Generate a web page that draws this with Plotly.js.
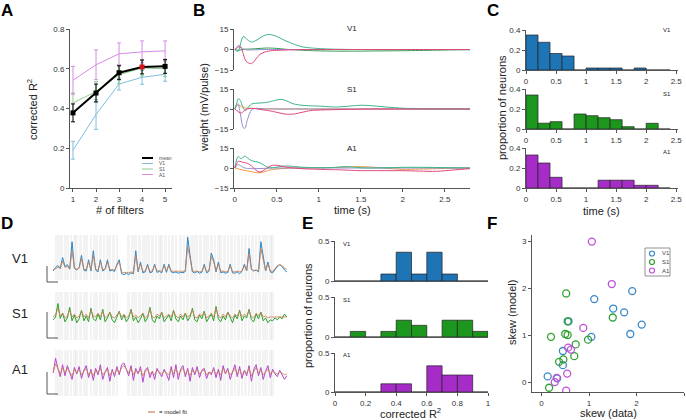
<!DOCTYPE html>
<html>
<head>
<meta charset="utf-8">
<script src="https://cdn.plot.ly/plotly-3.0.1.min.js"></script>
<style>
  html, body { margin: 0; padding: 0; background: #fff; }
  #fig { width: 686px; height: 420px; }
</style>
</head>
<body>
<div id="fig"></div>
<script>
"use strict";

// ---- panel A: corrected R2 vs number of filters
var nFilters = [1, 2, 3, 4, 5];
var meanR2 = [0.378, 0.478, 0.58, 0.609, 0.612];
var meanErr = [0.045, 0.045, 0.035, 0.035, 0.035];
var v1R2 = [0.19, 0.37, 0.523, 0.557, 0.572];
var v1Err = [0.045, 0.075, 0.03, 0.035, 0.035];
var s1R2 = [0.428, 0.485, 0.57, 0.604, 0.60];
var s1Err = [0.05, 0.05, 0.045, 0.04, 0.04];
var a1R2 = [0.542, 0.62, 0.675, 0.685, 0.69];
var a1Err = [0.07, 0.075, 0.055, 0.055, 0.05];

// ---- panel B: filter weights (mV/pulse) vs time (s)
var tB = [0, 0.02, 0.04, 0.06, 0.08, 0.1, 0.12, 0.15, 0.2, 0.25, 0.3, 0.35, 0.4, 0.45, 0.5, 0.55, 0.6, 0.7, 0.8, 0.9, 1.0, 1.1, 1.2, 1.3, 1.4, 1.5, 1.6, 1.8, 2.0, 2.2, 2.4, 2.6, 2.8];
var wV1teal = [0, -1, -1.5, 2, 7, 9.5, 9, 7, 5.5, 6.5, 8.5, 10.3, 11, 10.6, 9.5, 8, 6.5, 4, 2, 1.2, 0.7, 0.4, 0.2, 0.1, 0, 0, 0, 0, 0, 0, 0, 0, 0];
var wV1pink = [0, 0.8, 1.8, 2, 0.5, -3, -7, -9.5, -10.3, -7, -3.5, -2, -1.2, -0.8, -0.6, -0.5, -0.4, -0.2, -0.1, 0, 0, 0, 0, 0, 0, 0, 0, 0, 0, 0, 0, 0, 0];
var wV1lav = [0, 1.5, 3, 2.5, 1.5, 0.5, 0, -0.3, -0.3, -0.2, -0.1, 0, 0, 0, 0, 0, 0, 0, 0, 0, 0, 0, 0, 0, 0, 0, 0, 0, 0, 0, 0, 0, 0];
var wV1green = [0, -0.3, -0.5, -0.4, -0.2, 0, 0.2, 0.3, 0.4, 0.6, 0.8, 1, 1.1, 1, 0.8, 0.5, 0.2, -0.2, -0.5, -0.8, -1, -1.1, -1.2, -1.2, -1.2, -1.2, -1.1, -1, -0.9, -0.7, -0.5, -0.3, -0.2];
var wS1teal = [0, 4, 7.8, 7, 4, 1, -1, 0.5, 3.8, 4.3, 4.5, 4.7, 5.2, 6, 6.8, 7.2, 6.5, 3.8, 2.8, 2.4, 2.2, 1.8, 1.5, 1.8, 2.4, 2.8, 2.6, 1.5, 0.6, 0.1, 0, 0, 0];
var wS1lav = [0, 3, 4, -2, -9, -14, -14.5, -8, -0.5, 0.5, 0.3, 0, 0, 0, 0, 0, 0, 0, 0, 0, 0, 0, 0, 0, 0, 0, 0, 0, 0, 0, 0, 0, 0];
var wS1pink = [0, -1, -2, -2.8, -3, -2, -1, 0, 0.5, 0.2, -0.3, -0.8, -1.2, -1.8, -2.5, -3.2, -3.8, -3.8, -2.5, -1.2, -0.8, -0.6, -0.5, -0.3, -0.2, -0.1, 0, 0, 0, 0, 0, 0, 0];
var wS1orange = [0, 2, 3, 2.5, 1.8, 1.2, 0.8, 0.6, 0.5, 0.4, 0.3, 0.2, 0.2, 0.1, 0.1, 0, 0, 0, 0, 0, 0, 0, 0, 0, 0, 0, 0, 0, 0, 0, 0, 0, 0];
var wA1teal = [0, 6, 8.8, 7.5, 7, 8.2, 9, 7.5, 5.5, 4.8, 3.8, 2, 0.3, 0.2, 0.6, 1.2, 1.5, 1.2, 0.6, 0.4, 0.3, 0.3, 0.5, 1, 0.8, 0.2, 0, 0.2, 0.5, 0.5, 0.4, 0.2, 0];
var wA1pink = [0, 3, 5, 5, 4.6, 4.2, 4, 3.5, 1.5, -1.5, -3, -1.5, 0.8, 2, 2, 1.5, 0.8, 0, -0.5, -0.8, -1, -1.2, -1.3, -1.5, -1.8, -2, -2, -2, -2, -2.3, -2.5, -1.5, -0.5];
var wA1lav = [0, 1.5, 2.5, 2, 1.2, 0.5, 0, -0.3, -0.5, -0.5, -0.4, -0.3, -0.2, 0, 0, 0, 0, 0, 0, 0, 0, 0, 0, 0, 0, 0, 0, 0, 0, 0, 0, 0, 0];
var wA1orange = [0, -0.3, -0.6, -1, -1.3, -1.6, -1.8, -2.2, -2.8, -3.4, -3.6, -2.8, -1.8, -1.2, -0.8, -0.5, -0.3, 0, 0, 0, 0, 0.2, 0.4, 0.7, 0.9, 1, 0.8, -0.2, -1, -0.8, -0.5, -0.2, 0];

// ---- panel C: histogram of filter peak times
var cBins = [0.1, 0.3, 0.5, 0.7, 0.9, 1.1, 1.3, 1.5, 1.7, 1.9, 2.1, 2.3];
var cV1 = [0.35, 0.277, 0.165, 0.14, 0, 0.02, 0.02, 0.02, 0, 0.02, 0, 0];
var cS1 = [0.34, 0.058, 0.073, 0, 0.15, 0.133, 0.113, 0.093, 0.023, 0, 0.057, 0];
var cA1 = [0.33, 0.25, 0.107, 0, 0, 0, 0.078, 0.078, 0.078, 0.027, 0.027, 0];

// ---- panel D: example traces (data and model fit), sample index on x
var dV1 = [2.0,2.8,3.2,2.6,5.0,3.0,3.4,2.4,8.5,2.6, 2.2,2.8,5.5,2.2,2.0,4.5,2.0,6.5,2.2,1.8,
           4.5,2.0,2.4,4.5,2.0,2.2,1.9,3.5,4.5,1.4, 1.2,1.5,1.2,1.6,1.4,6.5,1.8,4.0,1.6,1.8,
           3.5,1.6,1.8,3.5,1.7,1.9,1.6,3.5,1.7,3.5, 1.8,1.6,1.8,1.5,1.7,1.6,1.9,9.5,5.5,1.8,
           1.6,1.9,1.5,1.7,3.5,1.6,1.9,6.0,4.5,1.8, 4.0,1.6,1.8,1.5,1.7,3.5,1.6,1.5,1.8,1.4,
           1.9,3.5,2.0,7.0,2.4,2.0,2.2,1.8,8.5,5.0, 2.0,4.0,1.8,1.6,2.4,3.0,3.4,3.0,2.2,1.8];
var mV1 = [2.2,2.6,2.8,2.6,4.2,2.8,3.0,2.5,6.5,2.6, 2.4,2.6,4.8,2.4,2.3,4.0,2.3,5.5,2.4,2.2,
           4.0,2.3,2.4,4.0,2.3,2.3,2.2,3.2,4.0,1.8, 1.6,1.7,1.6,1.8,1.7,5.5,2.0,3.6,1.9,2.0,
           3.2,1.9,2.0,3.2,2.0,2.1,1.9,3.2,2.0,3.2, 2.0,1.9,2.0,1.9,2.0,1.9,2.1,7.5,4.5,2.0,
           1.9,2.0,1.8,1.9,3.2,1.9,2.0,5.2,4.0,2.0, 3.6,1.9,2.0,1.8,1.9,3.2,1.9,1.8,2.0,1.8,
           2.0,3.2,2.1,6.0,2.4,2.1,2.2,2.0,7.0,4.5, 2.1,3.6,2.0,1.9,2.6,3.2,3.4,3.2,2.6,2.4];
var dS1 = [4.2,4.8,7.6,4.5,5.6,3.8,4.6,6.8,4.0,5.2, 3.6,4.4,6.2,4.0,5.0,3.8,6.6,4.4,4.0,5.4,
           4.2,6.4,3.8,4.6,5.8,4.2,3.6,4.8,6.0,4.2, 5.2,3.8,4.6,6.4,4.0,4.8,3.6,4.4,5.6,3.8,
           4.6,6.8,4.2,3.6,5.0,4.4,5.8,3.8,4.6,5.2, 4.0,6.2,4.4,3.8,5.0,4.2,5.6,4.0,4.8,6.6,
           4.2,3.8,5.2,4.4,6.0,3.8,4.6,5.4,4.0,7.0, 4.4,3.8,5.0,4.2,5.8,4.6,3.6,5.2,4.4,6.2,
           4.0,5.0,4.6,6.4,4.2,3.8,5.4,4.4,5.8,4.0, 4.6,3.6,4.2,4.0,4.6,4.2,4.8,4.4,5.4,4.8];
var mS1 = [4.8,5.2,6.6,5.0,5.6,4.6,5.0,6.2,4.8,5.4, 4.6,5.0,6.0,4.8,5.4,4.6,6.2,5.0,4.8,5.6,
           4.8,6.0,4.6,5.0,5.8,4.8,4.6,5.2,5.8,4.8, 5.4,4.6,5.0,6.2,4.8,5.2,4.6,5.0,5.6,4.6,
           5.0,6.4,4.8,4.6,5.4,5.0,5.8,4.6,5.0,5.4, 4.8,6.0,5.0,4.6,5.4,4.8,5.6,4.8,5.2,6.2,
           4.8,4.6,5.4,5.0,5.8,4.6,5.0,5.6,4.8,6.6, 5.0,4.6,5.4,4.8,5.8,5.0,4.6,5.4,5.0,6.0,
           4.8,5.4,5.0,6.2,4.8,4.6,5.6,5.0,5.8,4.8, 5.0,4.6,4.8,4.8,4.8,4.8,4.8,4.8,4.8,4.8];
var dA1 = [5.0,8.2,6.0,4.2,6.8,4.4,6.6,5.0,3.6,6.2, 4.8,6.4,3.8,5.6,6.6,4.0,5.8,3.4,6.0,4.6,
           6.8,3.6,5.2,6.2,3.2,5.8,4.2,6.4,4.6,6.8, 7.2,5.8,4.4,6.6,3.4,6.0,4.8,6.4,3.0,5.6,
           6.2,4.0,5.4,3.6,6.0,5.0,4.2,5.8,4.8,3.4, 6.4,4.0,6.8,3.6,5.8,6.6,4.2,6.0,3.2,6.2,
           4.6,6.4,4.0,5.6,6.0,3.8,5.2,4.6,6.2,4.0, 5.8,3.4,6.6,4.8,6.0,3.6,5.4,6.8,4.2,6.4,
           3.8,5.6,4.4,6.6,3.2,5.8,6.8,4.4,6.2,3.6, 5.4,6.6,4.0,5.8,4.8,4.2,5.6,4.6,3.6,4.4];
var mA1 = [5.2,7.0,6.0,4.8,6.2,5.0,6.0,5.2,4.4,5.8, 5.0,5.8,4.6,5.4,6.0,4.6,5.4,4.4,5.6,5.0,
           6.0,4.6,5.2,5.8,4.4,5.4,4.8,5.8,5.0,6.2, 6.6,5.8,5.0,6.0,4.6,5.6,5.0,5.8,4.4,5.4,
           5.8,4.8,5.2,4.6,5.6,5.2,4.8,5.4,5.0,4.6, 5.8,4.8,6.0,4.6,5.4,6.0,4.8,5.6,4.4,5.6,
           5.0,5.8,4.8,5.4,5.6,4.6,5.2,5.0,5.6,4.8, 5.4,4.6,6.0,5.0,5.6,4.6,5.2,6.0,4.8,5.8,
           4.6,5.4,5.0,6.0,4.4,5.4,6.2,5.0,5.6,4.6, 5.2,5.8,4.8,5.4,5.0,4.8,5.2,5.0,4.6,4.8];
// stimulus pulses (sample index)
var pulses = [1.5,2.5,3.5,5,6,7.5,9,10,11.5,13,14,16,17.5,18.5,20,21.5,23,24,25.5,27,32,33.5,35,36.5,
              38,39,40.5,42,43.5,45,46,47.5,49,50.5,52,54,55.5,57,58.5,60,61,62.5,64,65.5,67,68.5,
              70,71,72.5,74,75.5,77,78.5,80,81.5,83,84.5,86,87.5,89,90.5,92,93];

// ---- panel E: histogram of corrected R2
var eBins = [0.05, 0.15, 0.25, 0.35, 0.45, 0.55, 0.65, 0.75, 0.85, 0.95];
var eV1 = [0, 0, 0, 0.0875, 0.36, 0.0875, 0.36, 0.0875, 0, 0];
var eS1 = [0, 0.07, 0, 0.07, 0.21, 0.146, 0, 0.21, 0.21, 0.07];
var eA1 = [0, 0, 0, 0.105, 0.105, 0, 0.336, 0.218, 0.218, 0];

// ---- panel F: skew of model vs data
var fV1x = [0.13, 0.45, 0.45, 0.57, 1.05, 1.11, 1.51, 1.74, 1.87, 1.91, 2.11, 0.33];
var fV1y = [0.13, 0.37, 0.67, 1.30, 0.97, 1.77, 1.57, 1.49, 1.03, 1.94, 1.23, 0.09];
var fS1x = [0.16, 0.20, 0.37, 0.46, 0.52, 0.50, 0.55, 0.55, 0.72, 0.69, 0.98, 1.50];
var fS1y = [-0.11, 0.97, 0.44, 0.49, 1.89, 1.03, 1.01, 1.30, 0.81, 0.56, 0.91, 1.38];
var fA1x = [1.06, 1.48, 0.88, 0.56, 0.62, 0.54, 0.52, 0.28, 0.32];
var fA1y = [2.99, 2.09, 1.16, 0.74, 0.70, 0.19, -0.17, 0.01, 0.10];

// colours
var cBlue = '#1f74b6', cGreen = '#1c961c', cPurple = '#a62cc8';
var cTeal = '#3cb48a', cPink = '#e2457e', cLav = '#8f8fcf', cDkGreen = '#2f9a4f', cOrange = '#f0953e';
var cModel = '#c8825a';
var aV1 = '#7fbde0', aS1 = '#8ccc8c', aA1 = '#d68ae6';
var fBlue = '#3a88c8', fGreen = '#2ea02e', fPurple = '#c050d8';
var FONT = 'Liberation Sans, Arial, sans-serif';

var W = 686, H = 420;
function dx(a, b){ return [a / W, b / W]; }
function dy(t, b){ return [1 - b / H, 1 - t / H]; }

function ax(extra){
	var base = {
		showline: true, linecolor: '#555', linewidth: 1,
		ticks: 'outside', ticklen: 3, tickcolor: '#555',
		showgrid: false, zeroline: false, fixedrange: true,
		tickfont: {family: FONT, size: 8, color: '#333'}
	};
	return Object.assign(base, extra);
}
function hidden(extra){
	return Object.assign({visible: false, showgrid: false, zeroline: false, fixedrange: true}, extra);
}

function ann(text, x, y, size, extra){
	return Object.assign({
		text: text, x: x / W, y: 1 - y / H, xref: 'paper', yref: 'paper',
		showarrow: false, xanchor: 'center', yanchor: 'middle',
		font: {family: FONT, size: size, color: '#222'}
	}, extra || {});
}

var data = [];

// A
function errTrace(y, err, col, lw){
	return {
		x: nFilters, y: y, mode: 'lines', type: 'scatter', showlegend: false,
		xaxis: 'x', yaxis: 'y',
		line: {color: col, width: lw},
		error_y: {type: 'data', array: err, color: col, thickness: 1, width: 2}
	};
}
data.push(errTrace(v1R2, v1Err, aV1, 1));
data.push(errTrace(s1R2, s1Err, aS1, 1));
data.push(errTrace(a1R2, a1Err, aA1, 1));
data.push(errTrace(meanR2, meanErr, '#000', 2));
data.push({
	x: nFilters, y: meanR2, mode: 'markers', type: 'scatter', showlegend: false,
	xaxis: 'x', yaxis: 'y',
	marker: {symbol: 'square', size: 5, color: ['#000', '#000', '#000', '#d41414', '#000']}
});

// B
function wTrace(y, col, n){
	return {
		x: tB, y: y, mode: 'lines', type: 'scatter', showlegend: false,
		xaxis: 'x' + n, yaxis: 'y' + n,
		line: {color: col, width: 1, shape: 'spline', smoothing: 0.8}
	};
}
data.push(wTrace(wV1green, cDkGreen, 2), wTrace(wV1lav, cLav, 2), wTrace(wV1teal, cTeal, 2), wTrace(wV1pink, cPink, 2));
data.push(wTrace(wS1orange, cOrange, 3), wTrace(wS1lav, cLav, 3), wTrace(wS1teal, cTeal, 3), wTrace(wS1pink, cPink, 3));
data.push(wTrace(wA1orange, cOrange, 4), wTrace(wA1lav, cLav, 4), wTrace(wA1teal, cTeal, 4), wTrace(wA1pink, cPink, 4));

// C and E histograms
function histTrace(x, y, width, col, n){
	return {
		x: x, y: y, type: 'bar', width: width, showlegend: false,
		xaxis: 'x' + n, yaxis: 'y' + n,
		marker: {color: col, line: {color: '#222', width: 0.7}}
	};
}
data.push(histTrace(cBins, cV1, 0.2, cBlue, 5), histTrace(cBins, cS1, 0.2, cGreen, 6), histTrace(cBins, cA1, 0.2, cPurple, 7));
data.push(histTrace(eBins, eV1, 0.1, cBlue, 11), histTrace(eBins, eS1, 0.1, cGreen, 12), histTrace(eBins, eA1, 0.1, cPurple, 13));

// D traces with stimulus shading
function dTraces(d, m, col, n){
	var ones = pulses.map(function(){ return 10; });
	return [
		{x: pulses, y: ones, type: 'bar', width: 1.1, showlegend: false, xaxis: 'x' + n, yaxis: 'y' + n,
		 marker: {color: 'rgba(215,215,215,0.3)', line: {width: 0}}},
		{y: d, mode: 'lines', type: 'scatter', showlegend: false, xaxis: 'x' + n, yaxis: 'y' + n,
		 line: {color: col, width: 1}},
		{y: m, mode: 'lines', type: 'scatter', showlegend: false, xaxis: 'x' + n, yaxis: 'y' + n,
		 line: {color: cModel, width: 1}, opacity: 0.85}
	];
}
data = data.concat(dTraces(dV1, mV1, '#2b86c6', 8), dTraces(dS1, mS1, '#2aa02a', 9), dTraces(dA1, mA1, '#b545d0', 10));

// F
function fTrace(x, y, col){
	return {
		x: x, y: y, mode: 'markers', type: 'scatter', showlegend: false,
		xaxis: 'x14', yaxis: 'y14',
		marker: {symbol: 'circle-open', size: 7, color: col, line: {width: 1.3, color: col}}
	};
}
data.push(fTrace(fV1x, fV1y, fBlue), fTrace(fS1x, fS1y, fGreen), fTrace(fA1x, fA1y, fPurple));

var tickB = [0, 0.5, 1, 1.5, 2, 2.5];
var layout = {
	width: W, height: H,
	margin: {l: 0, r: 0, t: 0, b: 0},
	paper_bgcolor: '#fff', plot_bgcolor: 'rgba(0,0,0,0)',
	font: {family: FONT, size: 8, color: '#333'},
	barmode: 'overlay', bargap: 0,
	showlegend: false,

	// A
	xaxis: ax({domain: dx(70, 172), range: [0.87, 5.3], tickvals: nFilters, anchor: 'y'}),
	yaxis: ax({domain: dy(29, 188), range: [0, 0.8], tickvals: [0, 0.2, 0.4, 0.6, 0.8], anchor: 'x'}),

	// B
	xaxis2: hidden({domain: dx(234, 470), range: [-0.01, 2.8], anchor: 'y2'}),
	yaxis2: ax({domain: dy(29, 70), range: [-15, 15], tickvals: [-15, 0, 15], anchor: 'x2'}),
	xaxis3: hidden({domain: dx(234, 470), range: [-0.01, 2.8], anchor: 'y3'}),
	yaxis3: ax({domain: dy(89, 129), range: [-15, 15], tickvals: [-15, 0, 15], anchor: 'x3'}),
	xaxis4: ax({domain: dx(234, 470), range: [-0.01, 2.8], tickvals: tickB, anchor: 'y4'}),
	yaxis4: ax({domain: dy(148, 188), range: [-15, 15], tickvals: [-15, 0, 15], anchor: 'x4'}),

	// C
	xaxis5: ax({domain: dx(526, 678), range: [0, 2.53], tickvals: tickB, anchor: 'y5'}),
	yaxis5: ax({domain: dy(30, 70), range: [0, 0.4], tickvals: [0, 0.2, 0.4], anchor: 'x5'}),
	xaxis6: ax({domain: dx(526, 678), range: [0, 2.53], tickvals: tickB, anchor: 'y6'}),
	yaxis6: ax({domain: dy(89, 129), range: [0, 0.4], tickvals: [0, 0.2, 0.4], anchor: 'x6'}),
	xaxis7: ax({domain: dx(526, 678), range: [0, 2.53], tickvals: tickB, anchor: 'y7'}),
	yaxis7: ax({domain: dy(148, 188), range: [0, 0.4], tickvals: [0, 0.2, 0.4], anchor: 'x7'}),

	// D
	xaxis8: hidden({domain: dx(52, 288), range: [-0.5, 99.5], anchor: 'y8'}),
	yaxis8: hidden({domain: dy(235, 280), range: [0, 10], anchor: 'x8'}),
	xaxis9: hidden({domain: dx(52, 288), range: [-0.5, 99.5], anchor: 'y9'}),
	yaxis9: hidden({domain: dy(292, 340), range: [0, 10], anchor: 'x9'}),
	xaxis10: hidden({domain: dx(52, 288), range: [-0.5, 99.5], anchor: 'y10'}),
	yaxis10: hidden({domain: dy(350, 396), range: [0, 10], anchor: 'x10'}),

	// E
	xaxis11: ax({domain: dx(335, 488), range: [0, 1], ticks: '', showticklabels: false, anchor: 'y11'}),
	yaxis11: ax({domain: dy(241, 281), range: [0, 0.5], tickvals: [0, 0.5], anchor: 'x11'}),
	xaxis12: ax({domain: dx(335, 488), range: [0, 1], ticks: '', showticklabels: false, anchor: 'y12'}),
	yaxis12: ax({domain: dy(297, 337), range: [0, 0.5], tickvals: [0, 0.5], anchor: 'x12'}),
	xaxis13: ax({domain: dx(335, 488), range: [0, 1], tickvals: [0, 0.2, 0.4, 0.6, 0.8, 1], anchor: 'y13'}),
	yaxis13: ax({domain: dy(353, 392), range: [0, 0.5], tickvals: [0, 0.5], anchor: 'x13'}),

	// F
	xaxis14: ax({domain: dx(532, 684), range: [-0.2, 3.0], tickvals: [0, 1, 2, 3], anchor: 'y14'}),
	yaxis14: ax({domain: dy(235, 392), range: [-0.2, 3.13], tickvals: [0, 1, 2, 3], anchor: 'x14'}),

	shapes: [],
	annotations: []
};

function lineShape(x0, y0, x1, y1, col, w){
	return {type: 'line', xref: 'paper', yref: 'paper', x0: x0 / W, y0: 1 - y0 / H, x1: x1 / W, y1: 1 - y1 / H,
		line: {color: col, width: w}};
}
var S = layout.shapes;
var A = layout.annotations;

// scale bars for D and the model-fit key
S.push(lineShape(47, 266, 47, 282, '#555', 1), lineShape(47, 282, 58, 282, '#555', 1));
S.push(lineShape(47, 312, 47, 338, '#555', 1), lineShape(47, 338, 58, 338, '#555', 1));
S.push(lineShape(47, 372, 47, 394, '#555', 1), lineShape(47, 394, 58, 394, '#555', 1));
S.push(lineShape(148, 412, 155, 412, cModel, 1.2));
A.push(ann('= model fit', 157, 412, 6, {xanchor: 'left'}));

// key for A (compact, as in the figure)
[['mean', '#000', 2, 158], ['V1', aV1, 1, 163.5], ['S1', aS1, 1, 169], ['A1', aA1, 1, 174.5]].forEach(function(k){
	S.push(lineShape(142, k[3], 153, k[3], k[1], k[2]));
	A.push(ann(k[0], 157, k[3], 5, {xanchor: 'left', font: {family: FONT, size: 5, color: '#555'}}));
});

// key for F
S.push({type: 'rect', xref: 'paper', yref: 'paper', x0: 645 / W, x1: 670 / W, y0: 1 - 276 / H, y1: 1 - 248 / H,
	line: {color: '#777', width: 0.8}, fillcolor: '#fff'});
[['V1', fBlue, 253.5], ['S1', fGreen, 262], ['A1', fPurple, 270.5]].forEach(function(k){
	S.push({type: 'circle', xref: 'paper', yref: 'paper', x0: 649.5 / W, x1: 654.5 / W,
		y0: 1 - (k[2] + 2.5) / H, y1: 1 - (k[2] - 2.5) / H, line: {color: k[1], width: 1.2}});
	A.push(ann(k[0], 660, k[2], 6, {xanchor: 'left', font: {family: FONT, size: 6, color: '#444'}}));
});

// panel letters
[['A', 7, 10], ['B', 199, 10], ['C', 493, 10], ['D', 7, 223], ['E', 307, 223], ['F', 492, 223]].forEach(function(p){
	A.push(ann('<b>' + p[0] + '</b>', p[1], p[2], 17, {font: {family: FONT, size: 17, color: '#000'}}));
});
// axis titles
A.push(ann('corrected R<sup>2</sup>', 32, 110, 11, {textangle: -90}));
A.push(ann('# of filters', 120, 210, 11));
A.push(ann('weight (mV/pulse)', 204, 108, 11, {textangle: -90}));
A.push(ann('time (s)', 352, 210, 11));
A.push(ann('proportion of neurons', 502, 108, 11, {textangle: -90}));
A.push(ann('time (s)', 601, 211, 11));
A.push(ann('proportion of neurons', 308, 316, 11, {textangle: -90}));
A.push(ann('corrected R<sup>2</sup>', 410, 413, 11));
A.push(ann('skew (model)', 512, 313, 11, {textangle: -90}));
A.push(ann('skew (data)', 608, 413, 11));
// region labels
A.push(ann('V1', 352, 29, 8), ann('S1', 352, 89, 8), ann('A1', 352, 148, 8));
A.push(ann('V1', 667, 30, 6), ann('S1', 667, 94, 6), ann('A1', 667, 152, 6));
A.push(ann('V1', 347, 244, 6), ann('S1', 347, 300, 6), ann('A1', 347, 355, 6));
A.push(ann('V1', 20, 258, 13), ann('S1', 20, 313, 13), ann('A1', 20, 369, 13));

Plotly.newPlot('fig', data, layout, {staticPlot: true, displayModeBar: false});
</script>
</body>
</html>
